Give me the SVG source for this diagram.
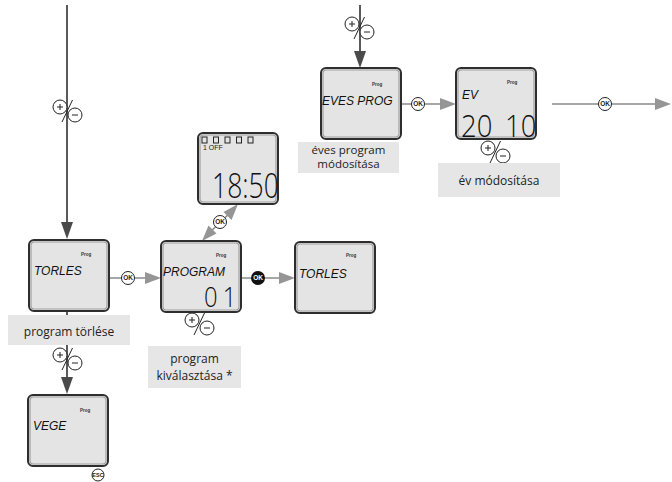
<svg xmlns="http://www.w3.org/2000/svg" width="672" height="482" viewBox="0 0 672 482">
<style>
.lcd-o{fill:#e4e4e4;stroke:#2e2e2e;stroke-width:2}
.lcd-i{fill:none;stroke:#a0a0a0;stroke-width:1.2}
.lcdtxt{font-family:"Liberation Sans",Arial,sans-serif;font-style:italic;font-size:12px;fill:#111}
.big{font-family:"Open Sans","Noto Sans",sans-serif;font-weight:300;fill:#111}
.prog{font-family:"Liberation Sans",Arial,sans-serif;font-size:4.5px;font-weight:bold;fill:#333}
.lbl{fill:#e6e6e6}
.lbltxt{font-family:"Open Sans","Noto Sans",sans-serif;font-size:12px;fill:#222;text-anchor:middle}
.ln{stroke:#8a8a8a;stroke-width:1.6;fill:none}
.lnd{stroke:#5a5a5a;stroke-width:2;fill:none}
.ahg{fill:#959595}
.ahd{fill:#4a4a4a}
.okc{fill:#fff;stroke:#222;stroke-width:1}
.okt{font-family:"Liberation Sans",Arial,sans-serif;font-size:6.5px;font-weight:bold;fill:#222;text-anchor:middle}
.pm{fill:#fff;stroke:#222;stroke-width:1}
.pmt{stroke:#222;stroke-width:1;fill:none}
</style>
<defs>
<g id="pm">
<circle class="pm" cx="0" cy="0" r="7"/>
<circle class="pm" cx="15" cy="8" r="7"/>
<line class="pmt" x1="12.5" y1="-7" x2="2" y2="15"/>
<line class="pmt" x1="-3" y1="0" x2="3" y2="0"/>
<line class="pmt" x1="0" y1="-3" x2="0" y2="3"/>
<line class="pmt" x1="12" y1="8" x2="18" y2="8"/>
</g>
<g id="ok">
<circle class="okc" cx="0" cy="0" r="6.5"/>
<text class="okt" x="0" y="2.3">OK</text>
</g>
<g id="lcd">
<rect class="lcd-o" x="0" y="0" width="80" height="71" rx="5"/>
<rect class="lcd-i" x="2" y="2" width="76" height="67" rx="3.5"/>
</g>
</defs>

<g id="connectors">
<line class="lnd" x1="67" y1="5" x2="67" y2="225"/>
<polygon class="ahd" points="61,222 73,222 67,239"/>
<line class="lnd" x1="67" y1="311" x2="67" y2="380"/>
<polygon class="ahd" points="61,377 73,377 67,394"/>
<line class="ln" x1="109" y1="278" x2="150" y2="278"/>
<polygon class="ahg" points="145,272 145,284 161,278"/>
<line class="ln" x1="241" y1="278" x2="285" y2="278"/>
<polygon class="ahg" points="279,272 279,284 295,278"/>
<line class="ln" x1="206" y1="236" x2="235" y2="208"/>
<polygon class="ahg" points="238,204 223.5,212 231.5,220"/>
<polygon class="ahg" points="202,241 208.5,225.5 216.5,233.5"/>
<line class="lnd" x1="360" y1="5" x2="360" y2="55"/>
<polygon class="ahd" points="354,51 366,51 360,68"/>
<line class="ln" x1="400" y1="104" x2="445" y2="104"/>
<polygon class="ahg" points="440,98 440,110 456,104"/>
<line class="ln" x1="552" y1="104" x2="660" y2="104"/>
<polygon class="ahg" points="655,98 655,110 671,104"/>
<use href="#pm" x="60" y="107"/>
<use href="#pm" x="60" y="355"/>
<use href="#pm" x="352" y="24"/>
<use href="#pm" x="192" y="320"/>
<use href="#pm" x="488" y="148"/>
<use href="#ok" x="128" y="278"/>
<use href="#ok" x="220" y="222"/>
<use href="#ok" x="418" y="104"/>
<use href="#ok" x="605" y="104"/>
<circle cx="258" cy="278" r="7" fill="#111"/>
<text class="okt" x="258" y="280.3" style="fill:#fff">OK</text>
</g>

<g id="torles1">
<use href="#lcd" x="29" y="240"/>
<text class="prog" x="81" y="256">Prog</text>
<text class="lcdtxt" x="34" y="275">TORLES</text>
</g>
<g id="lbl-torles">
<rect class="lbl" x="8" y="315" width="122" height="30"/>
<text class="lbltxt" x="69" y="336">program törlése</text>
</g>

<g id="vege">
<use href="#lcd" x="28" y="395"/>
<text class="prog" x="80" y="412">Prog</text>
<text class="lcdtxt" x="33" y="430">VEGE</text>
<circle class="okc" cx="98" cy="475" r="6"/>
<text class="okt" x="98" y="477.3" style="font-size:5.5px">ESC</text>
</g>

<g id="program">
<use href="#lcd" x="161" y="241"/>
<text class="prog" x="216" y="257">Prog</text>
<text class="lcdtxt" x="163" y="276">PROGRAM</text>
<text class="big" x="204" y="307" font-size="28" transform="translate(204 307) scale(0.85 1) translate(-204 -307)" letter-spacing="6">01</text>
</g>
<g id="lbl-program">
<rect class="lbl" x="148" y="346" width="93" height="42"/>
<text class="lbltxt" x="194.5" y="363">program</text>
<text class="lbltxt" x="194.5" y="380">kiválasztása *</text>
</g>

<g id="torles2">
<use href="#lcd" x="295" y="242"/>
<text class="prog" x="346" y="257">Prog</text>
<text class="lcdtxt" x="299" y="278">TORLES</text>
</g>

<g id="clock">
<use href="#lcd" x="198" y="133"/>
<g fill="none" stroke="#222" stroke-width="1">
<rect x="202" y="137" width="5" height="6"/>
<rect x="213.5" y="137" width="5" height="6"/>
<rect x="225" y="137" width="5" height="6"/>
<rect x="236.5" y="137" width="5" height="6"/>
<rect x="248" y="137" width="5" height="6"/>
</g>
<text x="203" y="150" font-family="Liberation Sans, Arial, sans-serif" font-size="7" fill="#222">1 OFF</text>
<text class="big" x="212" y="198" font-size="34" transform="translate(212 198) scale(0.78 1) translate(-212 -198)">18:50</text>
</g>

<g id="eves">
<use href="#lcd" x="321" y="68"/>
<text class="prog" x="372" y="86">Prog</text>
<text class="lcdtxt" x="322" y="105">EVES PROG</text>
</g>
<g id="lbl-eves">
<rect class="lbl" x="298" y="142" width="101" height="31"/>
<text class="lbltxt" x="348.5" y="154" style="font-size:11.5px">éves program</text>
<text class="lbltxt" x="348.5" y="168" style="font-size:11.5px">módosítása</text>
</g>

<g id="ev">
<use href="#lcd" x="456" y="68" />
<text class="prog" x="507" y="84">Prog</text>
<text class="lcdtxt" x="462" y="99">EV</text>
<text class="big" x="461" y="137" font-size="32" transform="translate(461 137) scale(0.86 1) translate(-461 -137)">20</text>
<text class="big" x="505" y="137" font-size="32" transform="translate(505 137) scale(0.86 1) translate(-505 -137)">10</text>
</g>
<g id="lbl-ev">
<rect class="lbl" x="438" y="163" width="122" height="34"/>
<text class="lbltxt" x="499" y="185">év módosítása</text>
</g>
</svg>
